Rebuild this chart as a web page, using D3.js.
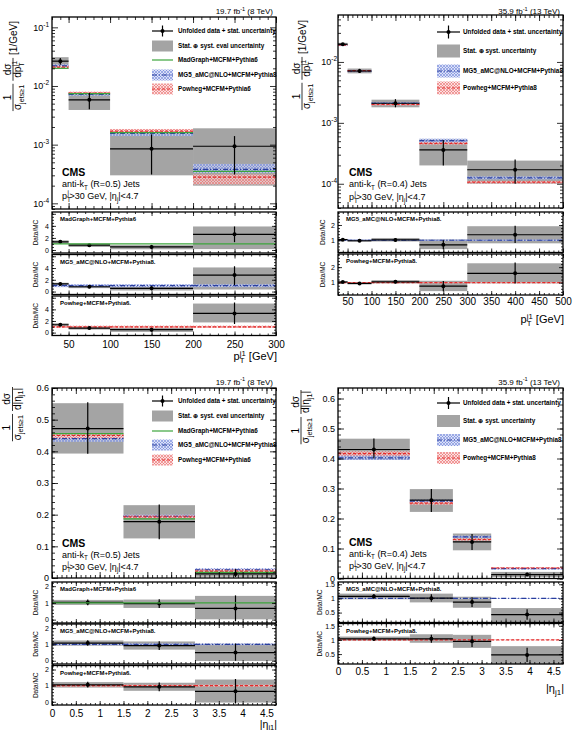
<!DOCTYPE html>
<html>
<head>
<meta charset="utf-8">
<title>Leading jet distributions</title>
<script src="https://cdnjs.cloudflare.com/ajax/libs/d3/7.8.5/d3.min.js"></script>
<style>
  body { margin: 0; background: #fff; }
</style>
</head>
<body>
<script>
// ---- top left: leading jet pT, 8 TeV ----
const pt8Edges = [30, 50, 100, 200, 300];
const pt8Data = [0.0265, 0.0058, 0.00085, 0.00094];
const pt8StatLo = [0.023, 0.0040, 0.00031, 0.00031];
const pt8StatHi = [0.030, 0.0076, 0.0015, 0.0014];
const pt8SystLo = [0.0215, 0.0039, 0.00030, 0.00020];
const pt8SystHi = [0.031, 0.0077, 0.0016, 0.0019];
const pt8MadGraph = [0.020, 0.0074, 0.0016, 0.00035];
const pt8Mg5 = [0.022, 0.0072, 0.00155, 0.00038];
const pt8Mg5Lo = [0.0205, 0.0068, 0.0014, 0.00033];
const pt8Mg5Hi = [0.0235, 0.0076, 0.0017, 0.00047];
const pt8Powheg = [0.021, 0.0076, 0.0017, 0.00028];
const pt8PowhegLo = [0.0198, 0.0072, 0.00155, 0.00021];
const pt8PowhegHi = [0.0222, 0.0080, 0.00185, 0.00031];

const pt8RMadGraph = [1.35, 0.80, 0.50, 2.6];
const pt8RMadGraphStatLo = [1.12, 0.55, 0.20, 1.30];
const pt8RMadGraphStatHi = [1.58, 1.05, 0.85, 3.90];
const pt8RMadGraphSystLo = [1.05, 0.50, 0.12, 0.15];
const pt8RMadGraphSystHi = [1.60, 1.05, 0.80, 3.90];
const pt8RMg5 = [1.30, 0.82, 0.55, 2.8];
const pt8RMg5StatLo = [1.10, 0.58, 0.22, 1.10];
const pt8RMg5StatHi = [1.50, 1.05, 0.90, 4.30];
const pt8RMg5SystLo = [1.05, 0.58, 0.18, 0.35];
const pt8RMg5SystHi = [1.50, 1.02, 0.85, 4.10];
const pt8RMg5BandLo = [0.75, 0.75, 0.75, 0.75];
const pt8RMg5BandHi = [1.25, 1.25, 1.25, 1.25];
const pt8RPowheg = [1.35, 0.78, 0.50, 3.3];
const pt8RPowhegStatLo = [1.12, 0.55, 0.20, 1.50];
const pt8RPowhegStatHi = [1.58, 1.02, 0.85, 5.20];
const pt8RPowhegSystLo = [1.05, 0.52, 0.12, 1.75];
const pt8RPowhegSystHi = [1.60, 1.02, 0.80, 5.00];
const pt8RPowhegBandLo = [0.8, 0.8, 0.8, 0.8];
const pt8RPowhegBandHi = [1.2, 1.2, 1.2, 1.2];

// ---- top right: leading jet pT, 13 TeV ----
const pt13Edges = [30, 50, 100, 200, 300, 500];
const pt13Data = [0.0195, 0.0071, 0.0021, 0.00036, 0.00017];
const pt13StatLo = [0.0186, 0.0066, 0.00180, 0.00020, 0.000100];
const pt13StatHi = [0.0204, 0.0077, 0.00245, 0.00052, 0.00025];
const pt13SystLo = [0.0184, 0.0065, 0.00180, 0.00020, 0.000100];
const pt13SystHi = [0.0206, 0.0078, 0.00240, 0.00054, 0.00024];
const pt13Mg5 = [0.0190, 0.0071, 0.00210, 0.00051, 0.000125];
const pt13Mg5Lo = [0.0182, 0.0068, 0.00200, 0.00047, 0.000118];
const pt13Mg5Hi = [0.0198, 0.0074, 0.00220, 0.00055, 0.000132];
const pt13Powheg = [0.0190, 0.0072, 0.00200, 0.00046, 0.000106];
const pt13PowhegLo = [0.0184, 0.0070, 0.00194, 0.00044, 0.000101];
const pt13PowhegHi = [0.0196, 0.0074, 0.00206, 0.00048, 0.000111];

const pt13RMg5 = [1.04, 0.97, 1.02, 0.70, 1.36];
const pt13RMg5StatLo = [0.99, 0.92, 0.92, 0.42, 0.82];
const pt13RMg5StatHi = [1.09, 1.03, 1.13, 1.00, 1.95];
const pt13RMg5SystLo = [0.97, 0.90, 0.92, 0.42, 0.80];
const pt13RMg5SystHi = [1.09, 1.04, 1.15, 1.05, 1.92];
const pt13RMg5BandLo = [0.95, 0.95, 0.95, 0.95, 0.95];
const pt13RMg5BandHi = [1.05, 1.05, 1.05, 1.05, 1.05];
const pt13RPowheg = [1.04, 0.95, 1.05, 0.77, 1.60];
const pt13RPowhegStatLo = [0.99, 0.90, 0.95, 0.45, 0.95];
const pt13RPowhegStatHi = [1.09, 1.01, 1.17, 1.10, 2.30];
const pt13RPowhegSystLo = [0.98, 0.88, 0.95, 0.45, 0.95];
const pt13RPowhegSystHi = [1.09, 1.02, 1.16, 1.12, 2.25];
const pt13RPowhegBandLo = [0.96, 0.96, 0.96, 0.96, 0.96];
const pt13RPowhegBandHi = [1.04, 1.04, 1.04, 1.04, 1.04];

// ---- bottom left: leading jet |eta|, 8 TeV ----
const eta8Edges = [0, 1.5, 3, 4.7];
const eta8Data = [0.472, 0.178, 0.013];
const eta8StatLo = [0.392, 0.122, 0.003];
const eta8StatHi = [0.555, 0.232, 0.028];
const eta8SystLo = [0.393, 0.125, 0.004];
const eta8SystHi = [0.552, 0.230, 0.025];
const eta8MadGraph = [0.456, 0.187, 0.018];
const eta8Mg5 = [0.440, 0.195, 0.026];
const eta8Mg5Lo = [0.430, 0.190, 0.020];
const eta8Mg5Hi = [0.450, 0.200, 0.031];
const eta8Powheg = [0.450, 0.193, 0.022];
const eta8PowhegLo = [0.441, 0.188, 0.018];
const eta8PowhegHi = [0.458, 0.198, 0.027];

const eta8RMadGraph = [1.03, 0.96, 0.67];
const eta8RMadGraphStatLo = [0.86, 0.70, -0.10];
const eta8RMadGraphStatHi = [1.20, 1.22, 1.45];
const eta8RMadGraphSystLo = [0.88, 0.70, 0.02];
const eta8RMadGraphSystHi = [1.18, 1.20, 1.42];
const eta8RMg5 = [1.08, 0.93, 0.50];
const eta8RMg5StatLo = [0.92, 0.66, 0.00];
const eta8RMg5StatHi = [1.26, 1.20, 1.05];
const eta8RMg5SystLo = [0.92, 0.68, -0.02];
const eta8RMg5SystHi = [1.24, 1.18, 1.04];
const eta8RMg5BandLo = [0.95, 0.95, 0.95];
const eta8RMg5BandHi = [1.06, 1.06, 1.06];
const eta8RPowheg = [1.05, 0.93, 0.65];
const eta8RPowhegStatLo = [0.88, 0.66, -0.10];
const eta8RPowhegStatHi = [1.24, 1.20, 1.42];
const eta8RPowhegSystLo = [0.88, 0.68, -0.05];
const eta8RPowhegSystHi = [1.22, 1.18, 1.38];
const eta8RPowhegBandLo = [0.94, 0.94, 0.94];
const eta8RPowhegBandHi = [1.06, 1.06, 1.06];

// ---- bottom right: leading jet |eta|, 13 TeV ----
const eta13Edges = [0, 1.5, 2.4, 3.2, 4.7];
const eta13Data = [0.430, 0.261, 0.122, 0.013];
const eta13StatLo = [0.400, 0.222, 0.095, 0.008];
const eta13StatHi = [0.467, 0.298, 0.148, 0.019];
const eta13SystLo = [0.395, 0.222, 0.094, 0.005];
const eta13SystHi = [0.466, 0.298, 0.150, 0.022];
const eta13Mg5 = [0.402, 0.258, 0.139, 0.033];
const eta13Mg5Lo = [0.395, 0.254, 0.135, 0.030];
const eta13Mg5Hi = [0.411, 0.263, 0.143, 0.036];
const eta13Powheg = [0.416, 0.251, 0.130, 0.035];
const eta13PowhegLo = [0.409, 0.246, 0.126, 0.032];
const eta13PowhegHi = [0.424, 0.256, 0.134, 0.038];

const eta13RMg5 = [1.07, 1.01, 0.87, 0.43];
const eta13RMg5StatLo = [0.99, 0.88, 0.70, 0.25];
const eta13RMg5StatHi = [1.16, 1.15, 1.04, 0.62];
const eta13RMg5SystLo = [0.97, 0.86, 0.67, 0.17];
const eta13RMg5SystHi = [1.17, 1.17, 1.06, 0.66];
const eta13RMg5BandLo = [0.985, 0.985, 0.985, 0.985];
const eta13RMg5BandHi = [1.015, 1.015, 1.015, 1.015];
const eta13RPowheg = [1.04, 1.04, 0.95, 0.47];
const eta13RPowhegStatLo = [0.96, 0.90, 0.75, 0.22];
const eta13RPowhegStatHi = [1.12, 1.18, 1.15, 0.72];
const eta13RPowhegSystLo = [0.97, 0.90, 0.72, 0.15];
const eta13RPowhegSystHi = [1.12, 1.20, 1.18, 0.78];
const eta13RPowhegBandLo = [0.985, 0.985, 0.985, 0.985];
const eta13RPowhegBandHi = [1.015, 1.015, 1.015, 1.015];

// ---- ticks ----
const pt8XTicks = [50, 100, 150, 200, 250, 300];
const pt13XTicks = [50, 100, 150, 200, 250, 300, 350, 400, 450, 500];
const etaXTicks = [0, 0.5, 1, 1.5, 2, 2.5, 3, 3.5, 4, 4.5];
const pt8YTicks = [1e-4, 1e-3, 1e-2, 1e-1];
const pt13YTicks = [1e-4, 1e-3, 1e-2];
const etaYTicks = [0, 0.1, 0.2, 0.3, 0.4, 0.5, 0.6];
const pt8RatioTicks = [0, 2, 4];
const pt13RatioTicks = [1, 2];
const eta8RatioTicks = [0, 1, 2];
const eta13RatioTicks = [0.5, 1, 1.5];

const FONT = "'Liberation Sans', Arial, Helvetica, sans-serif";
const GRAY = "#a4a4a4", BLUE = "#2a3f9e", RED = "#e42a2a", GREEN = "#3ca53c";

const svg = d3.select("body").append("svg")
  .attr("width", 575).attr("height", 730)
  .style("font-family", FONT);
const defs = svg.append("defs");

function hatch(id, line, bg) {
  const p = defs.append("pattern").attr("id", id)
    .attr("patternUnits", "userSpaceOnUse").attr("width", 3).attr("height", 3);
  p.append("rect").attr("width", 3).attr("height", 3).attr("fill", bg);
  p.append("path").attr("d", "M0,0L3,3M3,0L0,3").attr("stroke", line).attr("stroke-width", 0.6);
}
hatch("hBlue", "#6f84d8", "rgba(205,212,245,0.7)");
hatch("hRed", "#ea6a6a", "rgba(250,212,212,0.7)");

const MG = { color: GREEN, dash: null, fill: null };
const M5 = { color: BLUE, dash: "5,2,1,2", fill: "url(#hBlue)" };
const PW = { color: RED, dash: "3,2", fill: "url(#hRed)" };

let clipN = 0;
function clipped(g, x0, y0, x1, y1) {
  const id = "clip" + (clipN++);
  defs.append("clipPath").attr("id", id).append("rect")
    .attr("x", x0).attr("y", y0).attr("width", x1 - x0).attr("height", y1 - y0);
  return g.append("g").attr("clip-path", `url(#${id})`);
}

// rich text: parts = [text, shift(px, +down), size factor, dx]
function rich(sel, parts, fs) {
  let cur = 0;
  parts.forEach(([s, shift = 0, k = 1, dx = 0]) => {
    sel.append("tspan").attr("dy", shift - cur).attr("dx", dx).attr("font-size", fs * k).text(s);
    cur = shift;
  });
  return sel;
}

function drawHist(g, x, y, edges, h) {
  const bins = d3.range(edges.length - 1);
  const [x0, x1] = x.range();
  const [yb, yt] = y.range();
  const c = clipped(g, x0, yt, x1, yb);
  const bx = i => x(edges[i]), bw = i => x(edges[i + 1]) - x(edges[i]);
  c.selectAll(null).data(bins).join("rect")
    .attr("x", bx).attr("width", bw)
    .attr("y", i => y(h.systHi[i])).attr("height", i => y(h.systLo[i]) - y(h.systHi[i]))
    .attr("fill", GRAY);
  h.mc.forEach(m => {
    if (m.lo) c.selectAll(null).data(bins).join("rect")
      .attr("x", bx).attr("width", bw)
      .attr("y", i => y(m.hi[i])).attr("height", i => y(m.lo[i]) - y(m.hi[i]))
      .attr("fill", m.style.fill);
  });
  h.mc.forEach(m => {
    c.selectAll(null).data(bins).join("line")
      .attr("x1", bx).attr("x2", i => bx(i) + bw(i))
      .attr("y1", i => y(m.val[i])).attr("y2", i => y(m.val[i]))
      .attr("stroke", m.style.color).attr("stroke-width", 1.2)
      .attr("stroke-dasharray", m.style.dash);
  });
  const cx = i => x((edges[i] + edges[i + 1]) / 2);
  c.selectAll(null).data(bins).join("line")
    .attr("x1", bx).attr("x2", i => bx(i) + bw(i))
    .attr("y1", i => y(h.val[i])).attr("y2", i => y(h.val[i]))
    .attr("stroke", "#000").attr("stroke-width", 1.2);
  c.selectAll(null).data(bins).join("line")
    .attr("x1", cx).attr("x2", cx)
    .attr("y1", i => y(h.statLo[i])).attr("y2", i => y(h.statHi[i]))
    .attr("stroke", "#000").attr("stroke-width", 1.2);
  c.selectAll(null).data(bins).join("circle")
    .attr("cx", cx).attr("cy", i => y(h.val[i])).attr("r", 2).attr("fill", "#000");
}

function tickSet(g, gen, vals, size, tr) {
  const a = g.append("g").attr("transform", tr)
    .call(gen.tickValues(vals).tickSize(-size).tickFormat(""));
  a.select(".domain").remove();
  a.selectAll("text").remove();
  a.selectAll("line").attr("stroke", "#000").attr("stroke-width", 0.8);
}

function labelSet(g, gen, vals, pad, fs, tr, fmt) {
  const a = g.append("g").attr("transform", tr)
    .call(gen.tickValues(vals).tickSize(0).tickPadding(pad).tickFormat(fmt));
  a.select(".domain").remove();
  a.selectAll("line").remove();
  a.attr("font-size", fs).attr("font-family", FONT);
  a.selectAll("text").attr("fill", "#000");
  return a;
}

function boxTicks(g, x, y, xMaj, xMin, yMaj, yMin, xs, ys) {
  const [x0, x1] = x.range();
  const [yb, yt] = y.range();
  [[xMaj, xs], [xMin, xs / 2]].forEach(([v, s]) => {
    tickSet(g, d3.axisBottom(x), v, s, `translate(0,${yb})`);
    tickSet(g, d3.axisTop(x), v, s, `translate(0,${yt})`);
  });
  [[yMaj, ys], [yMin, ys / 2]].forEach(([v, s]) => {
    tickSet(g, d3.axisLeft(y), v, s, `translate(${x0},0)`);
    tickSet(g, d3.axisRight(y), v, s, `translate(${x1},0)`);
  });
  g.append("rect").attr("x", x0).attr("y", yt).attr("width", x1 - x0).attr("height", yb - yt)
    .attr("fill", "none").attr("stroke", "#000").attr("stroke-width", 1.3);
}

function steps(a, b, s) {
  const out = [];
  for (let v = a; v <= b + 1e-9; v += s) out.push(+v.toFixed(6));
  return out;
}
function logMinors(dom) {
  const out = [];
  for (let e = -6; e <= 0; e++) for (let k = 2; k <= 9; k++) {
    const v = k * Math.pow(10, e);
    if (v >= dom[0] && v <= dom[1]) out.push(v);
  }
  return out;
}

function yTitle(g, bx, yTop, fracs, tail) {
  const fs = 10;
  const grp = g.append("g");
  let pos = 0;
  const items = [];
  fracs.forEach(([num, den]) => {
    const tn = rich(grp.append("text").attr("text-anchor", "middle").attr("font-size", fs), num, fs);
    const td = rich(grp.append("text").attr("text-anchor", "middle").attr("font-size", fs), den, fs);
    const w = Math.max(tn.node().getComputedTextLength(), td.node().getComputedTextLength()) + 2;
    items.push({ tn, td, start: pos, w });
    pos += w + 3;
  });
  let L = pos;
  let tt = null;
  if (tail) {
    tt = rich(grp.append("text").attr("font-size", fs), tail, fs);
    L += tt.node().getComputedTextLength();
    tt.attr("x", pos).attr("y", 3.5);
  }
  grp.attr("transform", `translate(${bx},${yTop + L}) rotate(-90)`);
  items.forEach(it => {
    const c = it.start + it.w / 2;
    it.tn.attr("x", c).attr("y", -2.5);
    it.td.attr("x", c).attr("y", 8);
    grp.append("line").attr("x1", it.start).attr("x2", it.start + it.w)
      .attr("y1", 0).attr("y2", 0).attr("stroke", "#000").attr("stroke-width", 0.8);
  });
}

function legend(g, L) {
  L.items.forEach((it, k) => {
    const cy = L.ys[k], x0 = L.symX, w = L.symW, hh = L.symH / 2;
    if (it.kind === "data") {
      g.append("line").attr("x1", x0).attr("x2", x0 + w).attr("y1", cy).attr("y2", cy)
        .attr("stroke", "#000").attr("stroke-width", 1.2);
      g.append("line").attr("x1", x0 + w / 2).attr("x2", x0 + w / 2).attr("y1", cy - hh).attr("y2", cy + hh)
        .attr("stroke", "#000").attr("stroke-width", 1.2);
      g.append("circle").attr("cx", x0 + w / 2).attr("cy", cy).attr("r", 2).attr("fill", "#000");
    } else if (it.kind === "gray") {
      g.append("rect").attr("x", x0).attr("y", cy - hh).attr("width", w).attr("height", 2 * hh).attr("fill", GRAY);
    } else {
      if (it.style.fill) g.append("rect").attr("x", x0).attr("y", cy - hh).attr("width", w).attr("height", 2 * hh)
        .attr("fill", it.style.fill);
      g.append("line").attr("x1", x0).attr("x2", x0 + w).attr("y1", cy).attr("y2", cy)
        .attr("stroke", it.style.color).attr("stroke-width", 1.2).attr("stroke-dasharray", it.style.dash);
    }
    g.append("text").attr("x", L.textX).attr("y", cy + L.fs * 0.36)
      .attr("font-size", L.fs).attr("font-weight", "bold").text(it.label);
  });
}

function drawPanel(p) {
  const g = svg.append("g");
  const x = d3.scaleLinear().domain(p.xDomain).range([p.left, p.right]);
  const y = (p.log ? d3.scaleLog() : d3.scaleLinear()).domain(p.yDomain).range([p.main[1], p.main[0]]);

  drawHist(g, x, y, p.edges, p.hist);
  boxTicks(g, x, y, p.xTicks, p.xMinor, p.yTicks, p.log ? logMinors(p.yDomain) : p.yMinor, 6, 6);

  if (p.log) {
    const a = labelSet(g, d3.axisLeft(y), p.yTicks, p.yPad, 9, `translate(${p.left},0)`, () => "");
    a.selectAll(".tick text").each(function (d) {
      const t = d3.select(this);
      t.append("tspan").text("10");
      t.append("tspan").attr("dy", -4).attr("font-size", 6.5).text(Math.round(Math.log10(d)));
    });
  } else {
    labelSet(g, d3.axisLeft(y), p.yTicks, p.yPad, 9, `translate(${p.left},0)`, d => String(d));
  }

  yTitle(g, p.titleX, p.titleTop, p.yTitle.fracs, p.yTitle.tail);

  // lumi label, CMS block
  rich(g.append("text").attr("x", p.right - 3).attr("y", p.lumiY).attr("text-anchor", "end").attr("font-size", 8),
    p.lumi, 8);
  g.append("text").attr("x", p.cmsX).attr("y", p.cmsY[0]).attr("font-size", 10.5).attr("font-weight", "bold").text("CMS");
  rich(g.append("text").attr("x", p.cmsX).attr("y", p.cmsY[1]).attr("font-size", 9), p.algo, 9);
  rich(g.append("text").attr("x", p.cmsX).attr("y", p.cmsY[2]).attr("font-size", 9),
    [["p"], ["T", 2.5, 0.7], ["j", -4, 0.7, -3.5], [">30 GeV, |η", 0, 1, 0.8], ["j", 2.5, 0.7], ["|<4.7", 0]], 9);

  legend(g, p.legend);

  // ratio panels
  p.ratios.forEach((r, k) => {
    const yr = d3.scaleLinear().domain(p.ratioDomain).range([r.bot, r.top]);
    drawHist(g, x, yr, p.edges, r);
    const c = clipped(g, p.left, r.top, p.right, r.bot);
    if (r.refLine) c.append("line").attr("x1", p.left).attr("x2", p.right)
      .attr("y1", yr(1)).attr("y2", yr(1)).attr("stroke", GREEN).attr("stroke-width", 1.2);
    boxTicks(g, x, yr, p.xTicks, p.xMinor, p.ratioMajor, p.ratioMinor, 4, 4);
    labelSet(g, d3.axisLeft(yr), p.ratioLabels, 3, 7, `translate(${p.left},0)`, d => String(d));
    g.append("text").attr("x", p.left + 8).attr("y", r.top + 9).attr("font-size", 6)
      .attr("font-weight", "bold").text(r.label);
    g.append("text").attr("transform", `translate(${p.dataMcX},${(r.top + r.bot) / 2}) rotate(-90)`)
      .attr("text-anchor", "middle").attr("font-size", 6.5).text("Data/MC");
    if (k === p.ratios.length - 1) {
      labelSet(g, d3.axisBottom(x), p.xTicks, p.xPad, 10, `translate(0,${r.bot})`, d => String(d));
      rich(g.append("text").attr("x", p.right + 1).attr("y", p.xTitleY).attr("text-anchor", "end")
        .attr("font-size", p.xTitleFs), p.xTitle, p.xTitleFs);
    }
  });
}

const ptTitle = {
  fracs: [
    [[["1"]], [["σ"], ["jets≥1", 2.5, 0.72]]],
    [[["dσ"]], [["dp"], ["T", 2.5, 0.7], ["j1", -4.5, 0.7, -4]]]
  ],
  tail: [["[1/GeV]"]]
};
const etaTitle = {
  fracs: [
    [[["1"]], [["σ"], ["jets≥1", 2.5, 0.72]]],
    [[["dσ"]], [["d|η"], ["j1", 2.5, 0.72], ["|", 0]]]
  ],
  tail: null
};
const ptXTitle = [["p"], ["T", 3, 0.7], ["j1", -4.5, 0.7, -4.5], [" [GeV]", 0]];
const etaXTitle = [["|η"], ["j1", 2.5, 0.72], ["|", 0]];

function ratioSet(val, sLo, sHi, yLo, yHi, style, bLo, bHi, label) {
  return {
    val, statLo: sLo, statHi: sHi, systLo: yLo, systHi: yHi, label,
    refLine: !bLo,
    mc: bLo ? [{ val: val.map(() => 1), lo: bLo, hi: bHi, style }] : []
  };
}

// top left
drawPanel({
  left: 52, right: 276, main: [17, 209], xDomain: [30, 300], log: true, yDomain: [8e-5, 0.15],
  edges: pt8Edges,
  hist: {
    val: pt8Data, statLo: pt8StatLo, statHi: pt8StatHi, systLo: pt8SystLo, systHi: pt8SystHi,
    mc: [
      { val: pt8Mg5, lo: pt8Mg5Lo, hi: pt8Mg5Hi, style: M5 },
      { val: pt8Powheg, lo: pt8PowhegLo, hi: pt8PowhegHi, style: PW },
      { val: pt8MadGraph, style: MG }
    ]
  },
  xTicks: pt8XTicks, xMinor: steps(30, 300, 10), yTicks: pt8YTicks, yPad: 3,
  titleX: 13, titleTop: 21, yTitle: ptTitle,
  lumi: [["19.7 fb"], ["-1", -3.5, 0.7], [" (8 TeV)", 0]], lumiY: 14,
  cmsX: 62, cmsY: [176, 187, 199], algo: [["anti-k"], ["T", 2.5, 0.7], [" (R=0.5) Jets", 0]],
  legend: {
    symX: 152, symW: 21, symH: 11, textX: 178, fs: 6.3, ys: [31, 46, 60, 75, 89],
    items: [
      { kind: "data", label: "Unfolded data + stat. uncertainty" },
      { kind: "gray", label: "Stat. ⊕ syst. eval uncertainty" },
      { kind: "mc", style: MG, label: "MadGraph+MCFM+Pythia6" },
      { kind: "mc", style: M5, label: "MG5_aMC@NLO+MCFM+Pythia8" },
      { kind: "mc", style: PW, label: "Powheg+MCFM+Pythia6" }
    ]
  },
  ratioDomain: [-0.5, 6.3], ratioMajor: [0, 2, 4, 6], ratioMinor: steps(0, 6, 0.5), ratioLabels: pt8RatioTicks,
  dataMcX: 37.5, xPad: 5, xTitleY: 360, xTitleFs: 11, xTitle: ptXTitle,
  ratios: [
    Object.assign(ratioSet(pt8RMadGraph, pt8RMadGraphStatLo, pt8RMadGraphStatHi, pt8RMadGraphSystLo, pt8RMadGraphSystHi,
      MG, null, null, "MadGraph+MCFM+Pythia6"), { top: 212, bot: 253 }),
    Object.assign(ratioSet(pt8RMg5, pt8RMg5StatLo, pt8RMg5StatHi, pt8RMg5SystLo, pt8RMg5SystHi,
      M5, pt8RMg5BandLo, pt8RMg5BandHi, "MG5_aMC@NLO+MCFM+Pythia8."), { top: 254.5, bot: 294.5 }),
    Object.assign(ratioSet(pt8RPowheg, pt8RPowhegStatLo, pt8RPowhegStatHi, pt8RPowhegSystLo, pt8RPowhegSystHi,
      PW, pt8RPowhegBandLo, pt8RPowhegBandHi, "Powheg+MCFM+Pythia6."), { top: 296, bot: 335.5 })
  ]
});

// top right
drawPanel({
  left: 338, right: 563, main: [15, 208], xDomain: [30, 500], log: true, yDomain: [4e-5, 0.059],
  edges: pt13Edges,
  hist: {
    val: pt13Data, statLo: pt13StatLo, statHi: pt13StatHi, systLo: pt13SystLo, systHi: pt13SystHi,
    mc: [
      { val: pt13Mg5, lo: pt13Mg5Lo, hi: pt13Mg5Hi, style: M5 },
      { val: pt13Powheg, lo: pt13PowhegLo, hi: pt13PowhegHi, style: PW }
    ]
  },
  xTicks: pt13XTicks, xMinor: steps(30, 500, 10), yTicks: pt13YTicks, yPad: 1,
  titleX: 302, titleTop: 20, yTitle: ptTitle,
  lumi: [["35.9 fb"], ["-1", -3.5, 0.7], [" (13 TeV)", 0]], lumiY: 14,
  cmsX: 349, cmsY: [176, 187, 200], algo: [["anti-k"], ["T", 2.5, 0.7], [" (R=0.4) Jets", 0]],
  legend: {
    symX: 437, symW: 23, symH: 13, textX: 463, fs: 6.4, ys: [32, 51, 71, 88],
    items: [
      { kind: "data", label: "Unfolded data + stat. uncertainty" },
      { kind: "gray", label: "Stat. ⊕ syst. uncertainty" },
      { kind: "mc", style: M5, label: "MG5_aMC@NLO+MCFM+Pythia8" },
      { kind: "mc", style: PW, label: "Powheg+MCFM+Pythia8" }
    ]
  },
  ratioDomain: [0.2, 2.85], ratioMajor: [1, 2], ratioMinor: steps(0.2, 2.8, 0.2), ratioLabels: pt13RatioTicks,
  dataMcX: 325, xPad: 3, xTitleY: 323, xTitleFs: 11, xTitle: ptXTitle,
  ratios: [
    Object.assign(ratioSet(pt13RMg5, pt13RMg5StatLo, pt13RMg5StatHi, pt13RMg5SystLo, pt13RMg5SystHi,
      M5, pt13RMg5BandLo, pt13RMg5BandHi, "MG5_aMC@NLO+MCFM+Pythia8."), { top: 212, bot: 252.5 }),
    Object.assign(ratioSet(pt13RPowheg, pt13RPowhegStatLo, pt13RPowhegStatHi, pt13RPowhegSystLo, pt13RPowhegSystHi,
      PW, pt13RPowhegBandLo, pt13RPowhegBandHi, "Powheg+MCFM+Pythia8."), { top: 254, bot: 295 })
  ]
});

// bottom left
drawPanel({
  left: 52, right: 276, main: [388, 578], xDomain: [0, 4.7], log: false, yDomain: [0, 0.6],
  edges: eta8Edges,
  hist: {
    val: eta8Data, statLo: eta8StatLo, statHi: eta8StatHi, systLo: eta8SystLo, systHi: eta8SystHi,
    mc: [
      { val: eta8Mg5, lo: eta8Mg5Lo, hi: eta8Mg5Hi, style: M5 },
      { val: eta8Powheg, lo: eta8PowhegLo, hi: eta8PowhegHi, style: PW },
      { val: eta8MadGraph, style: MG }
    ]
  },
  xTicks: etaXTicks, xMinor: steps(0, 4.7, 0.1), yTicks: etaYTicks, yMinor: steps(0, 0.6, 0.02), yPad: 3,
  titleX: 12.5, titleTop: 384, yTitle: etaTitle,
  lumi: [["19.7 fb"], ["-1", -3.5, 0.7], [" (8 TeV)", 0]], lumiY: 384.5,
  cmsX: 62, cmsY: [546.5, 557.5, 569.5], algo: [["anti-k"], ["T", 2.5, 0.7], [" (R=0.5) Jets", 0]],
  legend: {
    symX: 152, symW: 21, symH: 11, textX: 178, fs: 6.3, ys: [401, 416, 431, 445, 460],
    items: [
      { kind: "data", label: "Unfolded data + stat. uncertainty" },
      { kind: "gray", label: "Stat. ⊕ syst. eval uncertainty" },
      { kind: "mc", style: MG, label: "MadGraph+MCFM+Pythia6" },
      { kind: "mc", style: M5, label: "MG5_aMC@NLO+MCFM+Pythia8" },
      { kind: "mc", style: PW, label: "Powheg+MCFM+Pythia6" }
    ]
  },
  ratioDomain: [-0.2, 2.25], ratioMajor: [0, 1, 2], ratioMinor: steps(-0.2, 2.2, 0.2), ratioLabels: eta8RatioTicks,
  dataMcX: 38, xPad: 5, xTitleY: 727.5, xTitleFs: 10.5, xTitle: etaXTitle,
  ratios: [
    Object.assign(ratioSet(eta8RMadGraph, eta8RMadGraphStatLo, eta8RMadGraphStatHi, eta8RMadGraphSystLo, eta8RMadGraphSystHi,
      MG, null, null, "MadGraph+MCFM+Pythia6"), { top: 582, bot: 623 }),
    Object.assign(ratioSet(eta8RMg5, eta8RMg5StatLo, eta8RMg5StatHi, eta8RMg5SystLo, eta8RMg5SystHi,
      M5, eta8RMg5BandLo, eta8RMg5BandHi, "MG5_aMC@NLO+MCFM+Pythia8."), { top: 624, bot: 664 }),
    Object.assign(ratioSet(eta8RPowheg, eta8RPowhegStatLo, eta8RPowhegStatHi, eta8RPowhegSystLo, eta8RPowhegSystHi,
      PW, eta8RPowhegBandLo, eta8RPowhegBandHi, "Powheg+MCFM+Pythia6."), { top: 665.5, bot: 705 })
  ]
});

// bottom right
drawPanel({
  left: 338, right: 563, main: [388, 578.5], xDomain: [0, 4.7], log: false, yDomain: [0, 0.635],
  edges: eta13Edges,
  hist: {
    val: eta13Data, statLo: eta13StatLo, statHi: eta13StatHi, systLo: eta13SystLo, systHi: eta13SystHi,
    mc: [
      { val: eta13Mg5, lo: eta13Mg5Lo, hi: eta13Mg5Hi, style: M5 },
      { val: eta13Powheg, lo: eta13PowhegLo, hi: eta13PowhegHi, style: PW }
    ]
  },
  xTicks: etaXTicks, xMinor: steps(0, 4.7, 0.1), yTicks: etaYTicks, yMinor: steps(0, 0.62, 0.02), yPad: 3,
  titleX: 301, titleTop: 387, yTitle: etaTitle,
  lumi: [["35.9 fb"], ["-1", -3.5, 0.7], [" (13 TeV)", 0]], lumiY: 384.5,
  cmsX: 349, cmsY: [545.5, 556.5, 568.5], algo: [["anti-k"], ["T", 2.5, 0.7], [" (R=0.4) Jets", 0]],
  legend: {
    symX: 437, symW: 23, symH: 12, textX: 463, fs: 6.3, ys: [403, 421, 440, 458],
    items: [
      { kind: "data", label: "Unfolded data + stat. uncertainty" },
      { kind: "gray", label: "Stat. ⊕ syst. uncertainty" },
      { kind: "mc", style: M5, label: "MG5_aMC@NLO+MCFM+Pythia8" },
      { kind: "mc", style: PW, label: "Powheg+MCFM+Pythia8" }
    ]
  },
  ratioDomain: [0.15, 1.58], ratioMajor: [0.5, 1, 1.5], ratioMinor: steps(0.2, 1.5, 0.1), ratioLabels: eta13RatioTicks,
  dataMcX: 322, xPad: 4, xTitleY: 692, xTitleFs: 11, xTitle: etaXTitle,
  ratios: [
    Object.assign(ratioSet(eta13RMg5, eta13RMg5StatLo, eta13RMg5StatHi, eta13RMg5SystLo, eta13RMg5SystHi,
      M5, eta13RMg5BandLo, eta13RMg5BandHi, "MG5_aMC@NLO+MCFM+Pythia8."), { top: 582, bot: 622.5 }),
    Object.assign(ratioSet(eta13RPowheg, eta13RPowhegStatLo, eta13RPowhegStatHi, eta13RPowhegSystLo, eta13RPowhegSystHi,
      PW, eta13RPowhegBandLo, eta13RPowhegBandHi, "Powheg+MCFM+Pythia8."), { top: 623.5, bot: 664 })
  ]
});
</script>
</body>
</html>
